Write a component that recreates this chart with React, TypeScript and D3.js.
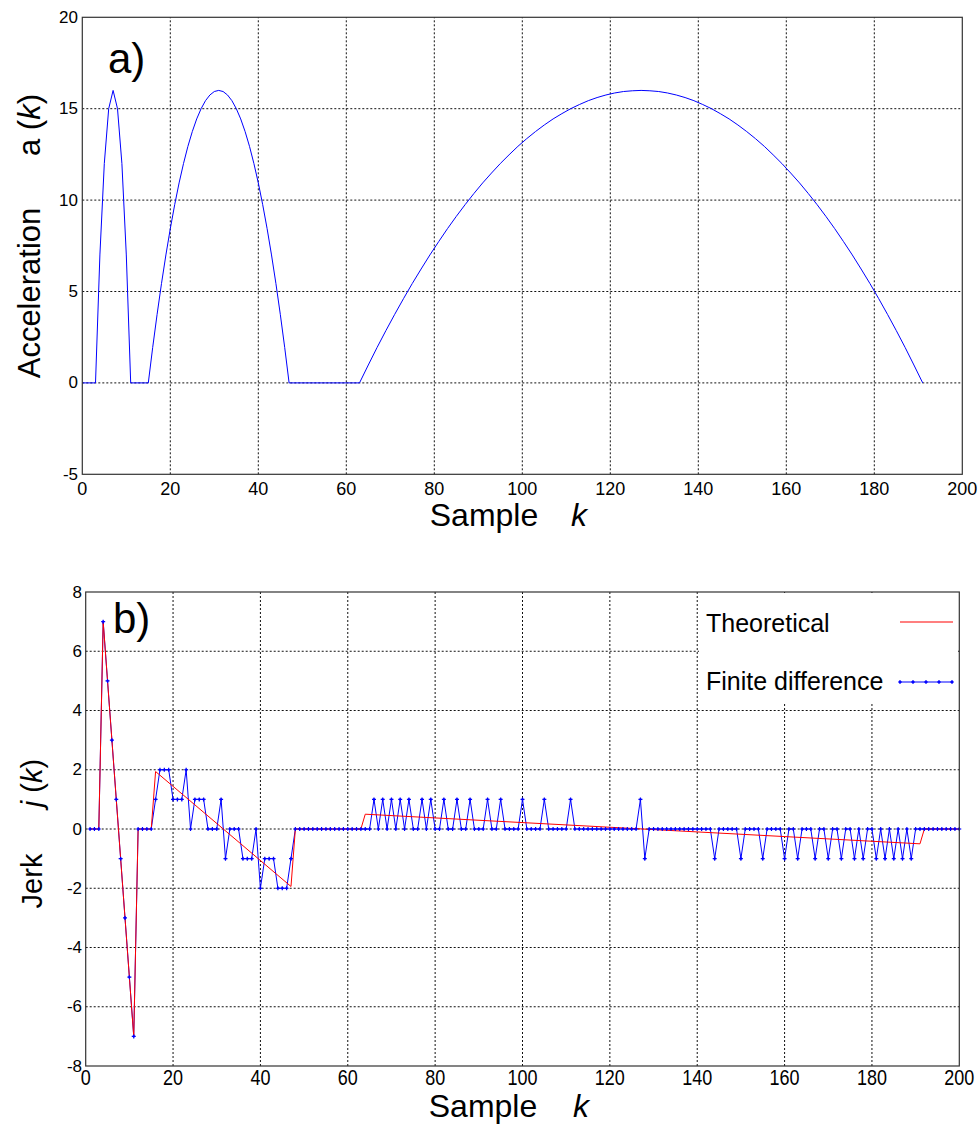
import * as d3 from "d3";

// panel a) acceleration a(k)
const accelK = [
  0, 3, 4, 5, 6, 7, 8, 9, 10, 11,
  15, 16, 17, 18, 19, 20, 21, 22, 23, 24, 25, 26, 27, 28, 29, 30, 31,
  32, 33, 34, 35, 36, 37, 38, 39, 40, 41, 42, 43, 44, 45, 46, 47,
  63, 65, 67, 69, 71, 73, 75, 77, 79, 81, 83, 85, 87, 89, 91, 93, 95, 97, 99,
  101, 103, 105, 107, 109, 111, 113, 115, 117, 119, 121, 123, 125, 127,
  129, 131, 133, 135, 137, 139, 141, 143, 145, 147, 149, 151, 153, 155, 157,
  159, 161, 163, 165, 167, 169, 171, 173, 175, 177, 179, 181, 183, 185, 187,
  189, 191, 200,
];
const accelA = [
  0, 0, 7, 12, 15, 16, 15, 12, 7, 0,
  0, 1.94, 3.75, 5.44, 7, 8.44, 9.75, 10.94, 12, 12.94, 13.75, 14.44, 15, 15.44, 15.75, 15.94, 16,
  15.94, 15.75, 15.44, 15, 14.44, 13.75, 12.94, 12, 10.94, 9.75, 8.44, 7, 5.44, 3.75, 1.94, 0,
  0, 0.98, 1.94, 2.86, 3.75, 4.61, 5.44, 6.23, 7, 7.73, 8.44, 9.11, 9.75, 10.36, 10.94, 11.48, 12,
  12.48, 12.94, 13.36, 13.75, 14.11, 14.44, 14.73, 15, 15.23, 15.44, 15.61, 15.75, 15.86, 15.94, 15.98, 16,
  15.98, 15.94, 15.86, 15.75, 15.61, 15.44, 15.23, 15, 14.73, 14.44, 14.11, 13.75, 13.36, 12.94, 12.48,
  12, 11.48, 10.94, 10.36, 9.75, 9.11, 8.44, 7.73, 7, 6.23, 5.44, 4.61, 3.75, 2.86,
  1.94, 0.98, 0,
];

// panel b) finite difference jerk, samples k = 1..200
const jerkFD = [
  0, 0, 0, 7, 5, 3, 1, -1, -3, -5, -7, 0, 0, 0, 0, 1, 2, 2, 2, 1,
  1, 1, 2, 0, 1, 1, 1, 0, 0, 0, 1, -1, 0, 0, 0, -1, -1, -1, 0, -2,
  -1, -1, -1, -2, -2, -2, -1, 0, 0, 0, 0, 0, 0, 0, 0, 0, 0, 0, 0, 0,
  0, 0, 0, 0, 0, 1, 0, 1, 0, 1, 0, 1, 0, 1, 0, 0, 1, 0, 1, 0,
  0, 1, 0, 0, 1, 0, 0, 1, 0, 0, 0, 1, 0, 0, 1, 0, 0, 0, 0, 1,
  0, 0, 0, 0, 1, 0, 0, 0, 0, 0, 1, 0, 0, 0, 0, 0, 0, 0, 0, 0,
  0, 0, 0, 0, 0, 0, 1, -1, 0, 0, 0, 0, 0, 0, 0, 0, 0, 0, 0, 0,
  0, 0, 0, -1, 0, 0, 0, 0, 0, -1, 0, 0, 0, 0, -1, 0, 0, 0, 0, -1,
  0, 0, -1, 0, 0, 0, -1, 0, 0, -1, 0, 0, -1, 0, 0, -1, 0, -1, 0, 0,
  -1, 0, -1, 0, -1, 0, -1, 0, -1, 0, 0, 0, 0, 0, 0, 0, 0, 0, 0, 0,
];

// theoretical jerk, breakpoints of the red line
const theoK = [1, 3, 4, 11, 12, 15, 16, 47, 48, 63, 64, 191, 192, 200];
const theoJ = [0, 0, 7, -7, 0, 0, 1.94, -1.94, 0, 0, 0.5, -0.5, 0, 0];

const xTicks = [0, 20, 40, 60, 80, 100, 120, 140, 160, 180, 200];
const yTicksTop = [-5, 0, 5, 10, 15, 20];
const yTicksBot = [-8, -6, -4, -2, 0, 2, 4, 6, 8];

const FONT = "Liberation Sans, Arial, Helvetica, sans-serif";

const xTop = d3.scaleLinear().domain([0, 200]).range([82.3, 962.3]);
const yTop = d3.scaleLinear().domain([-5, 20]).range([474.3, 17.3]);
const xBot = d3.scaleLinear().domain([0, 200]).range([85.7, 959.3]);
const yBot = d3.scaleLinear().domain([-8, 8]).range([1066, 592]);

function Frame({ x, y }: { x: d3.ScaleLinear<number, number>; y: d3.ScaleLinear<number, number> }) {
  const [x0, x1] = x.range();
  const [y0, y1] = y.range();
  return (
    <rect x={x0} y={y1} width={x1 - x0} height={y0 - y1} fill="none" stroke="#333" strokeWidth={1.2} />
  );
}

function Grid({ x, y, yTicks }: { x: d3.ScaleLinear<number, number>; y: d3.ScaleLinear<number, number>; yTicks: number[] }) {
  const [x0, x1] = x.range();
  const [y0, y1] = y.range();
  return (
    <g stroke="#111" strokeWidth={1} strokeDasharray="2,2">
      {xTicks.slice(1, -1).map((t) => (
        <line key={"gx" + t} x1={x(t)} x2={x(t)} y1={y0} y2={y1} />
      ))}
      {yTicks.slice(1, -1).map((t) => (
        <line key={"gy" + t} x1={x0} x2={x1} y1={y(t)} y2={y(t)} />
      ))}
    </g>
  );
}

export default function App() {
  const accelPts = accelK.map((k, i) => [k, accelA[i]] as [number, number]);
  const fdPts = jerkFD.map((v, i) => [i + 1, v] as [number, number]);
  const theoPts = theoK.map((k, i) => [k, theoJ[i]] as [number, number]);

  const topLine = d3.line<[number, number]>().x((d) => xTop(d[0])).y((d) => yTop(d[1]));
  const botLine = d3.line<[number, number]>().x((d) => xBot(d[0])).y((d) => yBot(d[1]));

  const marker = "M-2,0H2M0,-2V2";

  return (
    <svg
      width={980}
      height={1124}
      style={{ position: "absolute", left: 0, top: 0, background: "#fff" }}
      fontFamily={FONT}
    >
      <rect width={980} height={1124} fill="#fff" />

      {/* ---------- panel a ---------- */}
      <Grid x={xTop} y={yTop} yTicks={yTicksTop} />
      <path d={topLine(accelPts) || ""} fill="none" stroke="#0000ff" strokeWidth={1} />
      <Frame x={xTop} y={yTop} />
      <g fontSize={17} fill="#000">
        {yTicksTop.map((t) => (
          <text key={"ty" + t} x={78} y={yTop(t)} textAnchor="end" dominantBaseline="central">
            {t}
          </text>
        ))}
        {xTicks.map((t) => (
          <text key={"tx" + t} x={xTop(t)} y={495} textAnchor="middle" fontSize={18}>
            {t}
          </text>
        ))}
      </g>
      <text x={108} y={73} fontSize={42}>a)</text>
      <text transform="translate(40,293) rotate(-90)" textAnchor="middle" fontSize={31}>
        Acceleration
      </text>
      <text transform="translate(40,125) rotate(-90)" textAnchor="middle" fontSize={31}>
        a (<tspan fontStyle="italic">k</tspan>)
      </text>
      <text x={484} y={526} textAnchor="middle" fontSize={32}>Sample</text>
      <text x={579} y={526} textAnchor="middle" fontSize={32} fontStyle="italic">k</text>

      {/* ---------- panel b ---------- */}
      <Grid x={xBot} y={yBot} yTicks={yTicksBot} />
      <path d={botLine(fdPts) || ""} fill="none" stroke="#0000ff" strokeWidth={1} />
      <path d={botLine(theoPts) || ""} fill="none" stroke="#ff0000" strokeWidth={1} />
      <g stroke="#0000ff" strokeWidth={1.2} fill="#0000ff">
        {fdPts.map((d) => (
          <g key={"m" + d[0]} transform={`translate(${xBot(d[0])},${yBot(d[1])})`}>
            <path d={marker} />
            <circle r={1.1} stroke="none" />
          </g>
        ))}
      </g>

      {/* legend */}
      <rect x={699} y={593} width={259} height={110} fill="#fff" />
      <text x={706} y={632} fontSize={25}>Theoretical</text>
      <line x1={900} x2={953} y1={622} y2={622} stroke="#ff0000" strokeWidth={1.2} />
      <text x={706} y={690} fontSize={25}>Finite difference</text>
      <line x1={900} x2={953} y1={682} y2={682} stroke="#0000ff" strokeWidth={1.2} />
      <g stroke="#0000ff" strokeWidth={1.2} fill="#0000ff">
        {[900, 913, 926, 939, 952].map((mx) => (
          <g key={"lm" + mx} transform={`translate(${mx},682)`}>
            <path d={marker} />
            <circle r={1.1} stroke="none" />
          </g>
        ))}
      </g>

      <Frame x={xBot} y={yBot} />
      <g fontSize={17} fill="#000">
        {yTicksBot.map((t) => (
          <text key={"by" + t} x={82} y={yBot(t)} textAnchor="end" dominantBaseline="central">
            {t}
          </text>
        ))}
        {xTicks.map((t) => (
          <text
            key={"bx" + t}
            transform={`translate(${xBot(t)},1085) scale(1,1.25)`}
            textAnchor="middle"
            fontSize={18}
          >
            {t}
          </text>
        ))}
      </g>
      <text x={113} y={633} fontSize={42}>b)</text>
      <text transform="translate(42,881) rotate(-90)" textAnchor="middle" fontSize={29}>
        Jerk
      </text>
      <text transform="translate(42,783) rotate(-90)" textAnchor="middle" fontSize={29}>
        <tspan fontStyle="italic">j</tspan> (<tspan fontStyle="italic">k</tspan>)
      </text>
      <text x={483} y={1117} textAnchor="middle" fontSize={32}>Sample</text>
      <text x={581} y={1117} textAnchor="middle" fontSize={32} fontStyle="italic">k</text>
    </svg>
  );
}
